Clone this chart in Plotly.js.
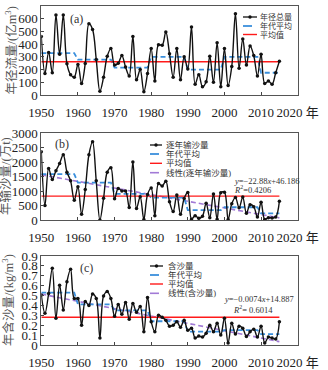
<!DOCTYPE html>
<html><head><meta charset="utf-8">
<script src="https://cdn.plot.ly/plotly-3.0.1.min.js"></script>
<style>html,body{margin:0;padding:0;background:#fff}#chart{width:328px;height:370px}</style>
</head><body><div id="chart"></div>
<script>
const years = [1950,1951,1952,1953,1954,1955,1956,1957,1958,1959,1960,1961,1962,1963,1964,1965,1966,1967,1968,1969,1970,1971,1972,1973,1974,1975,1976,1977,1978,1979,1980,1981,1982,1983,1984,1985,1986,1987,1988,1989,1990,1991,1992,1993,1994,1995,1996,1997,1998,1999,2000,2001,2002,2003,2004,2005,2006,2007,2008,2009,2010,2011,2012,2013,2014,2015];

const runoff = [460,170,335,175,630,320,630,245,160,140, 240,90,248,560,515,280,30,140,305,365, 235,250,310,220,150,460,120,200,25,170, 365,110,396,391,496,325,140,365,120,300, 205,535,85,160,65,105,305,100,410,65, 365,75,225,640,210,440,235,385,310,150, 320,90,110,85,175,265];

const sediment = [2350,500,1780,1400,1700,1950,2250,1650,1350,680, 1150,200,1050,2250,2700,1350,0,750,1650,1800, 730,1090,1000,1000,435,2000,400,800,20,880, 1100,150,1260,1170,1340,630,290,860,200,745, 950,30,150,60,130,580,80,900,30,940, 960,20,560,780,420,790,230,530,460,100, 610,20,80,70,100,650];

const concentration = [0.505,0.32,0.52,0.775,0.27,0.605,0.355,0.64,0.765,0.47, 0.47,0.2,0.44,0.40,0.515,0.47,0.07,0.495,0.54,0.47, 0.29,0.41,0.31,0.43,0.26,0.42,0.33,0.39,0.135,0.48, 0.235,0.135,0.30,0.28,0.25,0.19,0.20,0.235,0.18,0.25, 0.15,0.17,0.07,0.09,0.08,0.12,0.20,0.135,0.22,0.10, 0.27,0.02,0.22,0.11,0.19,0.17,0.085,0.135,0.16,0.08, 0.19,0.02,0.08,0.07,0.06,0.235];

// decade averages (step line vertices)
const decadeX = [1950,1959,1960,1969,1970,1979,1980,1989,1990,1999,2000,2009,2010,2015];
const decadeRunoff = [330,330,278,278,215,215,300,300,200,200,300,300,175,175];
const decadeSediment = [1580,1580,1290,1290,900,900,770,770,340,340,440,440,230,230];
const decadeConc = [0.53,0.53,0.41,0.41,0.35,0.35,0.24,0.24,0.135,0.135,0.15,0.15,0.11,0.11];

const meanX = [1950,2015];
const meanRunoff = [262,262];
const meanSediment = [825,825];
const meanConc = [0.28,0.28];

const trendX = [1950,2015];
const trendSediment = [1560,73];
const trendConc = [0.515,0.034];

const xTickVals = [1950,1960,1970,1980,1990,2000,2010,2020];
const xTickText = ['1950','1960','1970','1980','1990','2000','2010','2020 年'];

const legendA = ['年径总量','年代平均','平均值'];
const legendB = ['逐年输沙量','年代平均','平均值','线性(逐年输沙量)'];
const legendC = ['含沙量','年代平均','平均值','线性(含沙量)'];

const W = 328, H = 370;
const px = x => x / W;
const py = y => 1 - y / H;

const SERIF = '"Liberation Serif", "Times New Roman", "Noto Sans CJK SC", serif';
const BLUE = '#3a8fdc', RED = '#ff1a1a', PURPLE = '#a27ad6', BLACK = '#111';

function seriesTrace(y, xa, ya) {
  return {x: years, y: y, xaxis: xa, yaxis: ya, type: 'scatter', mode: 'lines+markers',
    line: {color: BLACK, width: 1.4, shape: 'spline', smoothing: 1},
    marker: {color: BLACK, size: 3.5}, showlegend: false, hoverinfo: 'x+y'};
}
function decTrace(y, xa, ya) {
  return {x: decadeX, y: y, xaxis: xa, yaxis: ya, type: 'scatter', mode: 'lines',
    line: {color: BLUE, width: 1.8, dash: '5px,3px'}, showlegend: false};
}
function meanTrace(y, xa, ya) {
  return {x: meanX, y: y, xaxis: xa, yaxis: ya, type: 'scatter', mode: 'lines',
    line: {color: RED, width: 1.4}, showlegend: false};
}
function trendTrace(y, xa, ya) {
  return {x: trendX, y: y, xaxis: xa, yaxis: ya, type: 'scatter', mode: 'lines',
    line: {color: PURPLE, width: 1.6, dash: '5px,3px'}, showlegend: false};
}

const data = [
  decTrace(decadeRunoff, 'x', 'y'), meanTrace(meanRunoff, 'x', 'y'), seriesTrace(runoff, 'x', 'y'),
  trendTrace(trendSediment, 'x2', 'y2'), decTrace(decadeSediment, 'x2', 'y2'), meanTrace(meanSediment, 'x2', 'y2'), seriesTrace(sediment, 'x2', 'y2'),
  trendTrace(trendConc, 'x3', 'y3'), decTrace(decadeConc, 'x3', 'y3'), meanTrace(meanConc, 'x3', 'y3'), seriesTrace(concentration, 'x3', 'y3')
];

const tickFont = {family: SERIF, size: 13, color: '#222'};
function xAxis(anchor) {
  return {anchor: anchor, domain: [px(41.3), px(297.7)], range: [1950, 2020],
    tickvals: xTickVals, ticktext: xTickText, ticks: 'inside', ticklen: 3, tickcolor: '#444',
    showline: true, linecolor: '#555', linewidth: 1, mirror: true, showgrid: false, zeroline: false,
    tickfont: tickFont, ticklabelstandoff: 5};
}
function yAxis(anchor, top, bottom, range, dtick) {
  return {anchor: anchor, domain: [py(bottom), py(top)], range: range, dtick: dtick, tick0: 0,
    ticks: 'inside', ticklen: 3, tickcolor: '#444',
    showline: true, linecolor: '#555', linewidth: 1, mirror: true, showgrid: false, zeroline: false,
    tickfont: tickFont};
}

const annotations = [];
const shapes = [];
function txt(x, y, text, size, opts) {
  annotations.push(Object.assign({xref: 'paper', yref: 'paper', x: px(x), y: py(y), text: text,
    showarrow: false, xanchor: 'left', yanchor: 'middle', font: {family: SERIF, size: size, color: '#333'}}, opts || {}));
}
function legend(x0, x1, tx, ys, labels, fs) {
  const styles = [
    {color: BLACK, width: 1.3},
    {color: BLUE, width: 1.8, dash: 'dash'},
    {color: RED, width: 1.4},
    {color: PURPLE, width: 1.6, dash: 'dash'}
  ];
  labels.forEach((lab, i) => {
    shapes.push({type: 'line', xref: 'paper', yref: 'paper', x0: px(x0), x1: px(x1), y0: py(ys[i]), y1: py(ys[i]), line: styles[i]});
    if (i === 0) {
      const cx = (x0 + x1) / 2;
      shapes.push({type: 'circle', xref: 'paper', yref: 'paper', x0: px(cx - 1.7), x1: px(cx + 1.7), y0: py(ys[i] + 1.7), y1: py(ys[i] - 1.7), fillcolor: BLACK, line: {width: 0}});
    }
    txt(tx, ys[i], lab, fs);
  });
}

legend(243, 257, 258, [17, 26, 34.5], legendA, 8);
legend(150, 162, 164, [145, 154, 163.3, 172.7], legendB, 8.5);
legend(150, 163, 166, [266, 275, 284, 293.3], legendC, 8.5);

txt(68, 19, '(a)', 12);
txt(53, 144, '(b)', 12);
txt(78, 268, '(c)', 12);

txt(232, 180.7, '<i>y</i>=−22.88<i>x</i>+46.186', 8.5);
txt(232, 189.5, '<i>R</i><sup>2</sup>=0.4206', 8.5);
txt(222, 299.3, '<i>y</i>=−0.0074<i>x</i>+14.887', 8.5);
txt(231, 309.3, '<i>R</i><sup>2</sup>= 0.6014', 8.5);

const titleFont = 12.5;
txt(10, 50.5, '年径流量/(亿m<sup>3</sup>)', titleFont, {textangle: -90, xanchor: 'center', font: {family: SERIF, size: titleFont, color: '#555'}});
txt(5, 176, '年输沙量/(万t)', titleFont, {textangle: -90, xanchor: 'center', font: {family: SERIF, size: titleFont, color: '#555'}});
txt(8, 300, '年含沙量/(kg/m<sup>3</sup>)', titleFont, {textangle: -90, xanchor: 'center', font: {family: SERIF, size: titleFont, color: '#555'}});

const layout = {
  width: W, height: H, margin: {l: 0, r: 0, t: 0, b: 0}, paper_bgcolor: '#fff', plot_bgcolor: '#fff',
  showlegend: false,
  xaxis: xAxis('y'), yaxis: yAxis('x', 6, 95, [0, 700], 100),
  xaxis2: xAxis('y2'), yaxis2: yAxis('x2', 133, 220, [0, 3000], 500),
  xaxis3: xAxis('y3'), yaxis3: yAxis('x3', 256, 345, [0, 0.9], 0.1),
  annotations: annotations, shapes: shapes
};

Plotly.newPlot('chart', data, layout, {staticPlot: true, displayModeBar: false});
</script></body></html>
